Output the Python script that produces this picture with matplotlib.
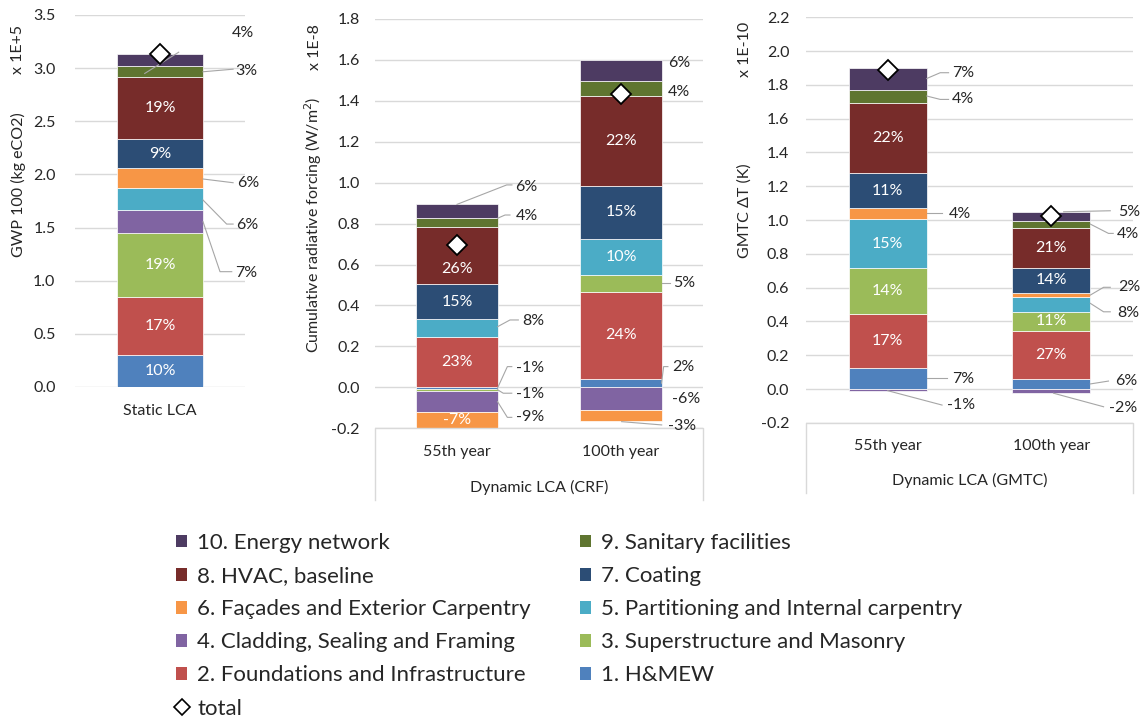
import numpy as np
import matplotlib.pyplot as plt
from matplotlib.patches import Patch
from matplotlib.lines import Line2D

plt.rcParams['font.family'] = ['Lato', 'DejaVu Sans']

# ---- data -------------------------------------------------------------
series_names = ["1. H&MEW", "2. Foundations and Infrastructure",
                "3. Superstructure and Masonry", "4. Cladding, Sealing and Framing",
                "5. Partitioning and Internal carpentry", "6. Façades and Exterior Carpentry",
                "7. Coating", "8. HVAC, baseline", "9. Sanitary facilities",
                "10. Energy network"]
colors = ["#4F81BD", "#C0504D", "#9BBB59", "#8064A2", "#4BACC6",
          "#F79646", "#2C4D75", "#772C2A", "#5F7530", "#4D3B62"]

# one row per series (1..10), one column per bar
static_cats = ["Static LCA"]
static_vals = [[0.300], [0.547], [0.604], [0.211], [0.208],
               [0.189], [0.273], [0.586], [0.104], [0.114]]
static_pct = [["10%"], ["17%"], ["19%"], ["7%"], ["6%"],
              ["6%"], ["9%"], ["19%"], ["3%"], ["4%"]]

crf_cats = ["55th year", "100th year"]
crf_vals = [[-0.008, 0.042], [0.247, 0.424], [-0.008, 0.083], [-0.105, -0.111],
            [0.085, 0.176], [-0.080, -0.054], [0.171, 0.260], [0.282, 0.437],
            [0.044, 0.077], [0.065, 0.101]]
crf_pct = [["-1%", "2%"], ["23%", "24%"], ["-1%", "5%"], ["-9%", "-6%"],
           ["8%", "10%"], ["-7%", "-3%"], ["15%", "15%"], ["26%", "22%"],
           ["4%", "4%"], ["6%", "6%"]]

gmtc_cats = ["55th year", "100th year"]
gmtc_vals = [[0.124, 0.059], [0.320, 0.284], [0.274, 0.114], [-0.010, -0.025],
             [0.286, 0.089], [0.065, 0.024], [0.207, 0.148], [0.414, 0.233],
             [0.079, 0.045], [0.132, 0.053]]
gmtc_pct = [["7%", "6%"], ["17%", "27%"], ["14%", "11%"], ["-1%", "-2%"],
            ["15%", "8%"], ["4%", "2%"], ["11%", "14%"], ["22%", "21%"],
            ["4%", "4%"], ["7%", "5%"]]

# ---- label placement (outside labels with leader lines) ----------------
# key (bar, series): (text x, text y, leader points)
static_out = {
    (0, 9): (0.424, 3.33, [(-0.09, 2.95), (0.11, 3.15)]),
    (0, 8): (0.441, 2.97, [(0.253, 2.966), (0.43, 2.99)]),
    (0, 5): (0.453, 1.916, [(0.253, 1.957), (0.43, 1.922)]),
    (0, 4): (0.447, 1.524, [(0.253, 1.759), (0.392, 1.533), (0.43, 1.533)]),
    (0, 3): (0.441, 1.075, [(0.253, 1.555), (0.353, 1.085), (0.422, 1.085)]),
}
crf_out = {
    (0, 9): (0.354, 0.980, [(0.0, 0.894), (0.303, 0.989), (0.335, 0.989)]),
    (0, 8): (0.36, 0.837, [(0.247, 0.826), (0.293, 0.842), (0.323, 0.842)]),
    (0, 4): (0.395, 0.324, [(0.247, 0.296), (0.323, 0.329), (0.374, 0.329)]),
    (0, 0): (0.36, 0.096, [(0.247, -0.004), (0.307, 0.101), (0.334, 0.101)]),
    (0, 2): (0.36, -0.033, [(0.247, -0.012), (0.282, -0.029), (0.334, -0.029)]),
    (0, 3): (0.36, -0.147, [(0.247, -0.07), (0.307, -0.147), (0.334, -0.147)]),
    (1, 9): (1.287, 1.587, None),
    (1, 8): (1.287, 1.445, None),
    (1, 2): (1.317, 0.508, [(1.247, 0.508), (1.30, 0.508)]),
    (1, 0): (1.311, 0.101, [(1.247, 0.02), (1.26, 0.101), (1.286, 0.101)]),
    (1, 3): (1.311, -0.057, None),
    (1, 5): (1.287, -0.189, [(1.004, -0.168), (1.248, -0.184)]),
}
gmtc_out = {
    (0, 9): (0.393, 1.872, [(0.239, 1.838), (0.321, 1.872), (0.372, 1.872)]),
    (0, 8): (0.393, 1.714, [(0.239, 1.734), (0.321, 1.714), (0.372, 1.714)]),
    (0, 5): (0.374, 1.034, [(0.239, 1.04), (0.332, 1.04)]),
    (0, 0): (0.393, 0.057, [(0.239, 0.063), (0.362, 0.063)]),
    (0, 3): (0.362, -0.095, [(0.0, -0.01), (0.332, -0.095)]),
    (1, 9): (1.412, 1.049, [(1.076, 1.049), (1.361, 1.055)]),
    (1, 8): (1.402, 0.915, [(1.239, 0.976), (1.35, 0.921), (1.379, 0.921)]),
    (1, 5): (1.412, 0.605, [(1.239, 0.556), (1.32, 0.602), (1.361, 0.602)]),
    (1, 4): (1.402, 0.451, [(1.239, 0.507), (1.32, 0.457), (1.361, 0.457)]),
    (1, 0): (1.391, 0.047, [(1.239, 0.03), (1.35, 0.047)]),
    (1, 3): (1.351, -0.111, [(1.014, -0.025), (1.32, -0.105)]),
}
# inside labels moved off the segment centre (HVAC, 55th year)
crf_in_move = {(0, 7): 0.577}

TXT = '#262626'
GRID = '#D9D9D9'
FS = 11.5


def draw_panel(ax, cats, vals, pcts, out, width, ylim, yticks, in_move=None):
    vals = np.array(vals, dtype=float)
    x = np.arange(len(cats))
    pos_base = np.zeros(len(cats))
    neg_base = np.zeros(len(cats))
    for s in range(vals.shape[0]):
        v = vals[s]
        bottom = np.where(v >= 0, pos_base, neg_base)
        ax.bar(x, v, width, bottom=bottom, color=colors[s],
               edgecolor='white', linewidth=0.5, zorder=2)
        for b in range(len(cats)):
            if (b, s) in out:
                tx, ty, pts = out[(b, s)]
                ax.text(tx, ty, pcts[s][b], ha='left', va='center',
                        fontsize=FS, color=TXT, clip_on=False, zorder=4)
                if pts:
                    px, py = zip(*pts)
                    ax.plot(px, py, color='#A6A6A6', lw=0.8,
                            clip_on=False, zorder=3)
            else:
                ym = bottom[b] + v[b] / 2
                if in_move and (b, s) in in_move:
                    ym = in_move[(b, s)]
                ax.text(x[b], ym, pcts[s][b], ha='center', va='center',
                        fontsize=FS, color='white', zorder=4)
        pos_base = pos_base + np.where(v >= 0, v, 0)
        neg_base = neg_base + np.where(v < 0, v, 0)
    totals = vals.sum(axis=0)
    ax.plot(x, totals, linestyle='none', marker='D', markersize=10,
            mfc='white', mec='black', mew=1.3, zorder=5)

    ax.set_xlim(-0.5, len(cats) - 0.5)
    ax.set_ylim(*ylim)
    ax.set_yticks(yticks)
    ax.set_yticklabels([f"{t:.1f}" for t in yticks])
    ax.set_xticks(x)
    ax.set_xticklabels(cats)
    ax.tick_params(length=0, labelsize=FS, colors=TXT)
    ax.tick_params(axis='x', pad=12)
    ax.grid(axis='y', color=GRID, lw=1, zorder=0)
    ax.set_axisbelow(True)
    for sp in ax.spines.values():
        sp.set_visible(False)
    ax.patch.set_alpha(0)


fig = plt.figure(figsize=(11.44, 7.2), dpi=100)
W, H = 1144.0, 720.0


def axes_px(l, r, top, bot):
    return fig.add_axes([l / W, 1 - bot / H, (r - l) / W, (bot - top) / H])


ax1 = axes_px(75, 245, 15, 387)
draw_panel(ax1, static_cats, static_vals, static_pct, static_out, 0.506,
           (0, 3.5), np.arange(0, 3.51, 0.5))
ax1.tick_params(axis='y', pad=14)

ax2 = axes_px(375, 703, 19, 428.2)
draw_panel(ax2, crf_cats, crf_vals, crf_pct, crf_out, 0.494,
           (-0.2, 1.8), np.arange(-0.2, 1.81, 0.2), in_move=crf_in_move)
ax2.tick_params(axis='y', pad=11)

ax3 = axes_px(806, 1133, 17.3, 422.8)
draw_panel(ax3, gmtc_cats, gmtc_vals, gmtc_pct, gmtc_out, 0.477,
           (-0.2, 2.2), np.arange(-0.2, 2.21, 0.2))
ax3.tick_params(axis='y', pad=12)

# category group boxes
for ax, depth, label in [(ax2, -0.1755, "Dynamic LCA (CRF)"),
                         (ax3, -0.173, "Dynamic LCA (GMTC)")]:
    ax.plot([0, 0, 1, 1], [depth, 0, 0, depth], transform=ax.transAxes,
            color=GRID, lw=1, clip_on=False)
    ax.text(0.5, depth + 0.031, label, transform=ax.transAxes, ha='center',
            va='center', fontsize=FS, color=TXT)

# y axis titles and multipliers
for px_x, px_y, s in [(18, 185, "GWP 100 (kg eCO2)"), (18, 50, "x 1E+5"),
                      (313, 225, "Cumulative radiative forcing (W/m$^2$)"),
                      (315, 47, "x 1E-8"),
                      (745, 211, "GMTC ΔT (K)"), (745, 49, "x 1E-10")]:
    fig.text(px_x / W, 1 - px_y / H, s, rotation=90, ha='center', va='center',
             fontsize=FS, color=TXT)

# legend: two columns, row-wise order 10,9 / 8,7 / ... / total
patches = [Patch(facecolor=c, edgecolor='none') for c in colors]
order_col1 = [9, 7, 5, 3, 1]
order_col2 = [8, 6, 4, 2, 0]
handles = [patches[i] for i in order_col1]
labels = [series_names[i] for i in order_col1]
handles.append(Line2D([], [], linestyle='none', marker='D', markersize=8,
                      mfc='white', mec='black', mew=1.2))
labels.append("total")
handles += [patches[i] for i in order_col2]
labels += [series_names[i] for i in order_col2]
fig.legend(handles, labels, ncol=2, loc='upper left',
           bbox_to_anchor=(176 / W, 1 - 533 / H), frameon=False,
           fontsize=16, handlelength=0.5, handleheight=0.5, handletextpad=0.45,
           labelspacing=0.59, columnspacing=2.2, borderpad=0, borderaxespad=0,
           labelcolor=TXT)

fig.savefig("out.png", dpi=100)
